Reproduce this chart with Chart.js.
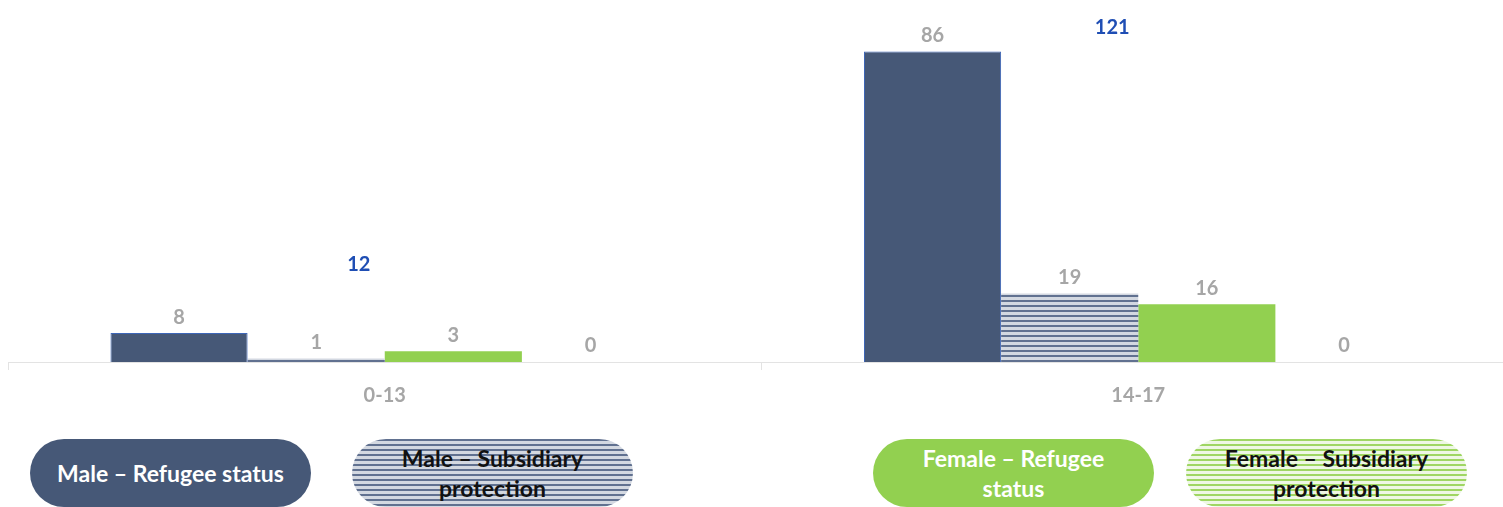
<!DOCTYPE html>
<html>
<head>
<meta charset="utf-8">
<script src="https://cdn.jsdelivr.net/npm/chart.js@4.4.1/dist/chart.umd.min.js"></script>
<style>
    html, body { margin: 0; padding: 0; background: #fff; overflow: hidden; width: 1503px; height: 507px; }
    #wrap { position: absolute; left: 0; top: 0; width: 1523px; height: 435px; }
    .pill {
        position: absolute; top: 439px; height: 68px; width: 281px;
        border-radius: 34px; display: flex; align-items: center; justify-content: center;
        text-align: center; font-family: Lato, "Open Sans", sans-serif; font-weight: bold;
        font-size: 23px; line-height: 30px; box-sizing: border-box; padding: 0 24px;
    }
</style>
</head>
<body>
<div id="wrap"><canvas id="chart" width="1523" height="435"></canvas></div>
<div id="legend"></div>
<script>
// Data
const categories = ['0-13', '14-17'];
const seriesNames = [
    'Male \u2013 Refugee status',
    'Male \u2013 Subsidiary protection',
    'Female \u2013 Refugee status',
    'Female \u2013 Subsidiary protection'
];
const maleRefugee = [8, 86];
const maleSubsidiary = [1, 19];
const femaleRefugee = [3, 16];
const femaleSubsidiary = [0, 0];
const totals = [12, 121];

const FONT = 'Lato, "Open Sans", sans-serif';
const NAVY = '#465877';
const GREEN = '#92d050';

// Striped fills
function stripePattern(dark, light) {
    const c = document.createElement('canvas');
    c.width = 4; c.height = 5;
    const g = c.getContext('2d');
    g.fillStyle = light; g.fillRect(0, 0, 4, 5);
    g.fillStyle = dark; g.fillRect(0, 0, 4, 2);
    return document.getElementById('chart').getContext('2d').createPattern(c, 'repeat');
}
const navyStripes = stripePattern('#617190', '#d3d8e1');
const greenStripes = stripePattern('#9fd663', '#eef7e4');

// Labels above bars and group totals
const labelPlugin = {
    id: 'labels',
    afterDatasetsDraw(chart) {
        const ctx = chart.ctx;
        ctx.save();
        ctx.textAlign = 'center';
        ctx.textBaseline = 'middle';
        ctx.font = 'bold 20px ' + FONT;
        chart.data.datasets.forEach((ds, di) => {
            const meta = chart.getDatasetMeta(di);
            meta.data.forEach((el, i) => {
                if (ds.type === 'line') {
                    ctx.fillStyle = '#1f4eb4';
                    ctx.fillText(String(ds.data[i]), el.x - 26, el.y);
                } else {
                    ctx.fillStyle = '#a6a6a6';
                    ctx.fillText(String(ds.data[i]), el.x, el.y - 16);
                }
            });
        });
        ctx.restore();
    }
};

new Chart(document.getElementById('chart'), {
    data: {
        labels: categories,
        datasets: [
            { type: 'bar', label: seriesNames[0], data: maleRefugee, backgroundColor: NAVY, borderColor: '#3d66b8', borderWidth: 1 },
            { type: 'bar', label: seriesNames[1], data: maleSubsidiary, backgroundColor: navyStripes, borderWidth: 0 },
            { type: 'bar', label: seriesNames[2], data: femaleRefugee, backgroundColor: GREEN, borderWidth: 0 },
            { type: 'bar', label: seriesNames[3], data: femaleSubsidiary, backgroundColor: greenStripes, borderWidth: 0 },
            { type: 'line', label: 'Total', data: totals, yAxisID: 'y2', showLine: false, pointRadius: 0, pointHoverRadius: 0 }
        ]
    },
    options: {
        responsive: false,
        animation: false,
        events: [],
        layout: { padding: { left: 8, right: 8, top: 1, bottom: 13 } },
        datasets: { bar: { categoryPercentage: 0.728, barPercentage: 1 } },
        plugins: { legend: { display: false }, tooltip: { enabled: false } },
        scales: {
            x: {
                grid: { display: true, drawOnChartArea: false, drawTicks: true, tickLength: 8, color: '#e3e3e3' },
                border: { display: true, color: '#e3e3e3' },
                ticks: { color: '#a6a6a6', padding: 14, font: { family: FONT, size: 20, weight: 'bold' } }
            },
            y: { display: false, min: 0, max: 100 },
            y2: { display: false, min: -33, max: 133 }
        }
    },
    plugins: [labelPlugin]
});

// Legend pills
const pillLeft = [30, 352, 873, 1186];
const pillBg = [
    NAVY,
    'repeating-linear-gradient(to bottom, #617190 0 2px, #d3d8e1 2px 5px)',
    GREEN,
    'repeating-linear-gradient(to bottom, #9fd663 0 2px, #eef7e4 2px 5px)'
];
const pillText = ['#ffffff', '#111111', '#ffffff', '#111111'];
const legend = document.getElementById('legend');
seriesNames.forEach((name, i) => {
    const d = document.createElement('div');
    d.className = 'pill';
    d.style.left = pillLeft[i] + 'px';
    d.style.background = pillBg[i];
    d.style.color = pillText[i];
    d.textContent = name;
    legend.appendChild(d);
});
</script>
</body>
</html>
